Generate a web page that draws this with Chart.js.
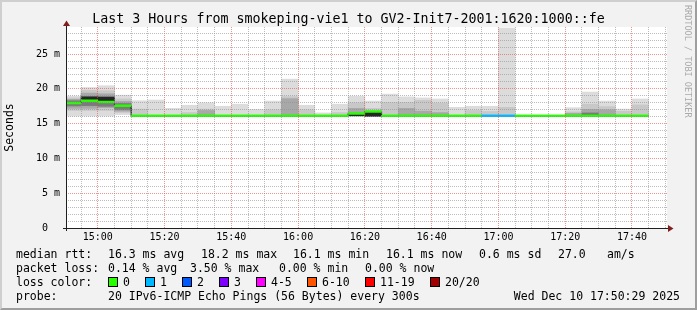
<!DOCTYPE html>
<html>
<head>
<meta charset="utf-8">
<script src="https://cdn.jsdelivr.net/npm/chart.js@4.4.1/dist/chart.umd.min.js"></script>
<style>
  html, body { margin: 0; padding: 0; background: #f2f2f2; }
  #wrap { position: relative; width: 697px; height: 310px; overflow: hidden; font-family: "DejaVu Sans Mono", monospace; color: #000; }
  #chart { position: absolute; left: 0; top: 0; }
  #frame { position: absolute; left: 0; top: 0; width: 697px; height: 310px; box-sizing: border-box;
           border-style: solid; border-width: 2px; border-color: #cfcfcf #9e9e9e #9e9e9e #cfcfcf; pointer-events: none; }
  #title { position: absolute; left: 0; top: 11px; width: 697px; text-align: center; font-size: 13.3px; line-height: 16px; white-space: pre; }
  #wm { position: absolute; left: 682px; top: 5px; writing-mode: vertical-rl; font-size: 8.5px; line-height: 12px; color: #aaa; white-space: pre; }
  .t { position: absolute; font-size: 11.5px; line-height: 14px; white-space: pre; }
  .box { position: absolute; top: 277px; width: 8px; height: 8px; border: 1px solid #000; }
</style>
</head>
<body>
<div id="wrap">
  <canvas id="chart" width="697" height="310"></canvas>
  <div id="title">Last 3 Hours from smokeping-vie1 to GV2-Init7-2001:1620:1000::fe</div>
  <div id="wm">RRDTOOL / TOBI OETIKER</div>

  <div class="t" style="left:16px;top:247px">median rtt:</div>
  <div class="t" style="left:108px;top:247px">16.3 ms avg</div>
  <div class="t" style="left:201px;top:247px">18.2 ms max</div>
  <div class="t" style="left:293px;top:247px">16.1 ms min</div>
  <div class="t" style="left:386px;top:247px">16.1 ms now</div>
  <div class="t" style="left:479px;top:247px">0.6 ms sd</div>
  <div class="t" style="left:558px;top:247px">27.0</div>
  <div class="t" style="left:607px;top:247px">am/s</div>

  <div class="t" style="left:16px;top:261px">packet loss:</div>
  <div class="t" style="left:108px;top:261px">0.14 % avg</div>
  <div class="t" style="left:190px;top:261px">3.50 % max</div>
  <div class="t" style="left:279px;top:261px">0.00 % min</div>
  <div class="t" style="left:365px;top:261px">0.00 % now</div>

  <div class="t" style="left:16px;top:275px">loss color:</div>
  <div class="box" style="left:108px;background:#26ff00"></div><div class="t" style="left:123px;top:275px">0</div>
  <div class="box" style="left:145px;background:#00b8ff"></div><div class="t" style="left:160px;top:275px">1</div>
  <div class="box" style="left:182px;background:#0059ff"></div><div class="t" style="left:197px;top:275px">2</div>
  <div class="box" style="left:219px;background:#7e00ff"></div><div class="t" style="left:234px;top:275px">3</div>
  <div class="box" style="left:256px;background:#ff00ff"></div><div class="t" style="left:271px;top:275px">4-5</div>
  <div class="box" style="left:307px;background:#ff5500"></div><div class="t" style="left:322px;top:275px">6-10</div>
  <div class="box" style="left:365px;background:#ff0000"></div><div class="t" style="left:380px;top:275px">11-19</div>
  <div class="box" style="left:430px;background:#a10000"></div><div class="t" style="left:445px;top:275px">20/20</div>

  <div class="t" style="left:16px;top:289px">probe:</div>
  <div class="t" style="left:108px;top:289px">20 IPv6-ICMP Echo Pings (56 Bytes) every 300s</div>
  <div class="t" style="right:17px;top:289px">Wed Dec 10 17:50:29 2025</div>

  <div id="frame"></div>
</div>
<script>
"use strict";

// 5 minute steps (start of each step)
const binStarts = ["14:50", "14:55",
    "15:00", "15:05", "15:10", "15:15", "15:20", "15:25", "15:30", "15:35", "15:40", "15:45", "15:50", "15:55",
    "16:00", "16:05", "16:10", "16:15", "16:20", "16:25", "16:30", "16:35", "16:40", "16:45", "16:50", "16:55",
    "17:00", "17:05", "17:10", "17:15", "17:20", "17:25", "17:30", "17:35", "17:40"];

// median rtt in ms
const medianRtt = [17.97, 18.30, 18.12, 17.58, 16.13, 16.13, 16.13, 16.13, 16.13, 16.13, 16.13, 16.13, 16.13, 16.13,
    16.13, 16.13, 16.13, 16.46, 16.75, 16.13, 16.13, 16.13, 16.13, 16.13, 16.13, 16.13,
    16.13, 16.13, 16.13, 16.13, 16.13, 16.13, 16.13, 16.13, 16.13];

// lost pings out of 20
const lossCount = [0, 0, 0, 0, 0, 0, 0, 0, 0, 0, 0, 0, 0, 0,
    0, 0, 0, 0, 0, 0, 0, 0, 0, 0, 0, 1,
    1, 0, 0, 0, 0, 0, 0, 0, 0];

// smoke, from the outer pings (lightest) to the densest core (darkest)
const smokeOuter = [[16.1, 18.95], [16.1, 20.2], [16.1, 20.45], [16.3, 19.1], [16.1, 18.3], [16.1, 18.4], [16.1, 17.2],
    [16.1, 17.65], [16.1, 18.0], [16.1, 17.5], [16.1, 17.8], [16.1, 17.05], [16.1, 18.25], [16.1, 21.4],
    [16.1, 17.65], [16.1, 16.55], [16.1, 17.8], [16.1, 18.95], [16.0, 18.25], [16.1, 19.25], [16.1, 18.85],
    [16.1, 18.7], [16.1, 18.55], [16.1, 17.35], [16.1, 17.5], [16.1, 17.5], [16.1, 28.75], null, null, null,
    [16.1, 17.3], [16.1, 19.55], [16.1, 18.25], [16.1, 17.1], [16.1, 18.55]];

const smokeMid = [[16.9, 18.7], [16.9, 19.8], [16.9, 19.75], [16.6, 18.55], [16.1, 17.1], null, null,
    [16.1, 16.6], [16.1, 17.1], null, null, null, [16.1, 17.0], [16.1, 18.9],
    [16.1, 17.0], null, [16.1, 16.6], [16.1, 18.0], [16.1, 17.2], [16.1, 18.05], [16.1, 18.05],
    [16.1, 18.35], [16.1, 17.95], null, [16.1, 16.9], [16.1, 16.75], [16.1, 17.35], null, null, null,
    [16.1, 16.7], [16.1, 17.8], [16.1, 17.45], [16.1, 16.8], [16.1, 17.7]];

const smokeDark = [[17.2, 18.5], [17.2, 19.4], [17.3, 19.3], [16.8, 18.2], null, null, null,
    null, [16.1, 16.9], null, null, null, null, [16.1, 18.6],
    null, null, null, [16.1, 17.2], null, null, [16.1, 17.2],
    [16.1, 16.8], [16.1, 16.6], null, null, null, null, null, null, null,
    [16.1, 16.5], [16.1, 17.05], [16.1, 17.0], null, null];

const smokeCore = [[17.55, 18.3], [17.6, 18.9], [17.5, 18.9], [17.0, 17.9], null, null, null,
    null, null, null, null, null, null, null,
    null, null, null, null, null, null, null,
    null, null, null, null, null, null, null, null, null,
    null, [16.1, 16.55], null, null, null];

const smokeBlack = [null, [18.4, 18.85], [18.15, 18.8], null, null, null, null,
    null, null, null, null, null, null, null,
    null, null, null, [16.15, 16.42], [16.05, 16.68], null, null,
    null, null, null, null, null, null, null, null, null,
    null, null, null, null, null];

// x axis: 3 hours ending 17:50:29, labels every 20 minutes
const xStart = "14:50:29";
const xEnd = "17:50:29";
const xLabels = ["15:00", "15:20", "15:40", "16:00", "16:20", "16:40", "17:00", "17:20", "17:40"];
const yLabels = [0, 5, 10, 15, 20, 25];
const yTop = 28.9;

const toMin = s => {
    const p = s.split(":").map(Number);
    return p[0] * 60 + p[1] + (p[2] || 0) / 60;
};
const fmt = v => {
    const h = Math.floor(v / 60), m = Math.round(v % 60);
    return String(h).padStart(2, "0") + ":" + String(m).padStart(2, "0");
};

const lossColor = n => {
    if (n === 0) return "#26ff00";
    if (n === 1) return "#00b8ff";
    if (n === 2) return "#0059ff";
    if (n === 3) return "#7e00ff";
    if (n <= 5) return "#ff00ff";
    if (n <= 10) return "#ff5500";
    if (n <= 19) return "#ff0000";
    return "#a10000";
};

const step = 5;
const centers = binStarts.map(s => toMin(s) + step / 2);
const band = 0.13;

const smokeSet = (label, ranges, color, order) => ({
    label: label,
    type: "bar",
    order: order,
    grouped: false,
    data: ranges.map((r, i) => ({ x: centers[i], y: r })),
    backgroundColor: color,
    borderWidth: 0,
    barPercentage: 1,
    categoryPercentage: 1
});

const stepLine = binStarts.map((s, i) => ({ x: toMin(s), y: medianRtt[i] }));
stepLine.push({ x: toMin(binStarts[binStarts.length - 1]) + step, y: medianRtt[medianRtt.length - 1] });

const xTicks = [];
for (let v = toMin("14:55"); v <= toMin(xEnd); v += 5) xTicks.push(v);
const yTicks = [];
for (let v = 0; v < yTop; v++) yTicks.push(v);

const gridColor = "rgba(143,143,143,0.6)";
const majorColor = "rgba(222,79,79,0.6)";
const monoFont = { family: "'DejaVu Sans Mono', monospace", size: 10 };

const plotBack = {
    id: "plotBack",
    beforeDraw(chart) {
        const { ctx, chartArea: a } = chart;
        ctx.save();
        ctx.fillStyle = "#ffffff";
        ctx.fillRect(a.left, a.top, a.right - a.left, a.bottom - a.top);
        ctx.restore();
    }
};

const axesArrows = {
    id: "axesArrows",
    afterDraw(chart) {
        const { ctx, chartArea: a } = chart;
        ctx.save();
        ctx.strokeStyle = "#1f1f1f";
        ctx.lineWidth = 1;
        ctx.beginPath();
        ctx.moveTo(a.left + 0.5, a.bottom + 3);
        ctx.lineTo(a.left + 0.5, a.top - 2);
        ctx.moveTo(a.left - 3, a.bottom + 0.5);
        ctx.lineTo(a.right + 2, a.bottom + 0.5);
        ctx.stroke();
        ctx.fillStyle = "#801f1f";
        ctx.beginPath();
        ctx.moveTo(a.left + 0.5, a.top - 6.5);
        ctx.lineTo(a.left - 3, a.top - 1);
        ctx.lineTo(a.left + 4, a.top - 1);
        ctx.closePath();
        ctx.fill();
        ctx.beginPath();
        ctx.moveTo(a.right + 6.5, a.bottom + 0.5);
        ctx.lineTo(a.right + 1, a.bottom - 3);
        ctx.lineTo(a.right + 1, a.bottom + 4);
        ctx.closePath();
        ctx.fill();
        ctx.restore();
    }
};

const chart = new Chart(document.getElementById("chart"), {
    type: "bar",
    data: {
        datasets: [
            {
                label: "median",
                type: "bar",
                order: 0,
                grouped: false,
                data: medianRtt.map((m, i) => ({ x: centers[i], y: [m - band, m + band] })),
                backgroundColor: lossCount.map(lossColor),
                borderWidth: 0,
                barPercentage: 1,
                categoryPercentage: 1
            },
            {
                label: "median step",
                type: "line",
                order: 1,
                data: stepLine,
                stepped: true,
                borderColor: "#000000",
                borderWidth: 1,
                pointRadius: 0,
                fill: false
            },
            smokeSet("black", smokeBlack, "#262626", 2),
            smokeSet("core", smokeCore, "#7a7a7a", 3),
            smokeSet("dark", smokeDark, "#a8a8a8", 4),
            smokeSet("mid", smokeMid, "#c8c8c8", 5),
            smokeSet("outer", smokeOuter, "#dcdcdc", 6)
        ]
    },
    options: {
        responsive: false,
        animation: false,
        devicePixelRatio: 1,
        layout: { padding: { left: 0, right: 30, top: 27, bottom: 0 } },
        plugins: {
            legend: { display: false },
            tooltip: { enabled: false },
            title: { display: false }
        },
        scales: {
            x: {
                type: "linear",
                min: toMin(xStart),
                max: toMin(xEnd),
                offset: false,
                afterFit: s => { s.height = 82; },
                afterBuildTicks: s => { s.ticks = xTicks.map(v => ({ value: v })); },
                ticks: {
                    autoSkip: false,
                    maxRotation: 0,
                    padding: 3.5,
                    color: "#000",
                    font: monoFont,
                    callback: v => xLabels.includes(fmt(v)) ? fmt(v) : ""
                },
                grid: {
                    z: 1,
                    offset: false,
                    drawTicks: false,
                    lineWidth: 1,
                    color: c => xLabels.includes(fmt(c.tick.value)) ? majorColor : gridColor
                },
                border: { display: false, dash: [1, 1] }
            },
            y: {
                type: "linear",
                min: 0,
                max: yTop,
                afterFit: s => { s.width = 66; },
                afterBuildTicks: s => { s.ticks = yTicks.map(v => ({ value: v })); },
                ticks: {
                    autoSkip: false,
                    padding: 6,
                    color: "#000",
                    font: monoFont,
                    callback: v => yLabels.includes(v) ? (v === 0 ? "0  " : v + " m") : ""
                },
                grid: {
                    z: 1,
                    drawTicks: false,
                    lineWidth: 1,
                    color: c => yLabels.includes(c.tick.value) ? majorColor : gridColor
                },
                border: { display: false, dash: [1, 1] },
                title: {
                    display: true,
                    text: "Seconds",
                    color: "#000",
                    font: { family: "'DejaVu Sans Mono', monospace", size: 11.5 },
                    padding: { top: 3, bottom: 0 }
                }
            }
        }
    },
    plugins: [plotBack, axesArrows]
});
</script>
</body>
</html>
